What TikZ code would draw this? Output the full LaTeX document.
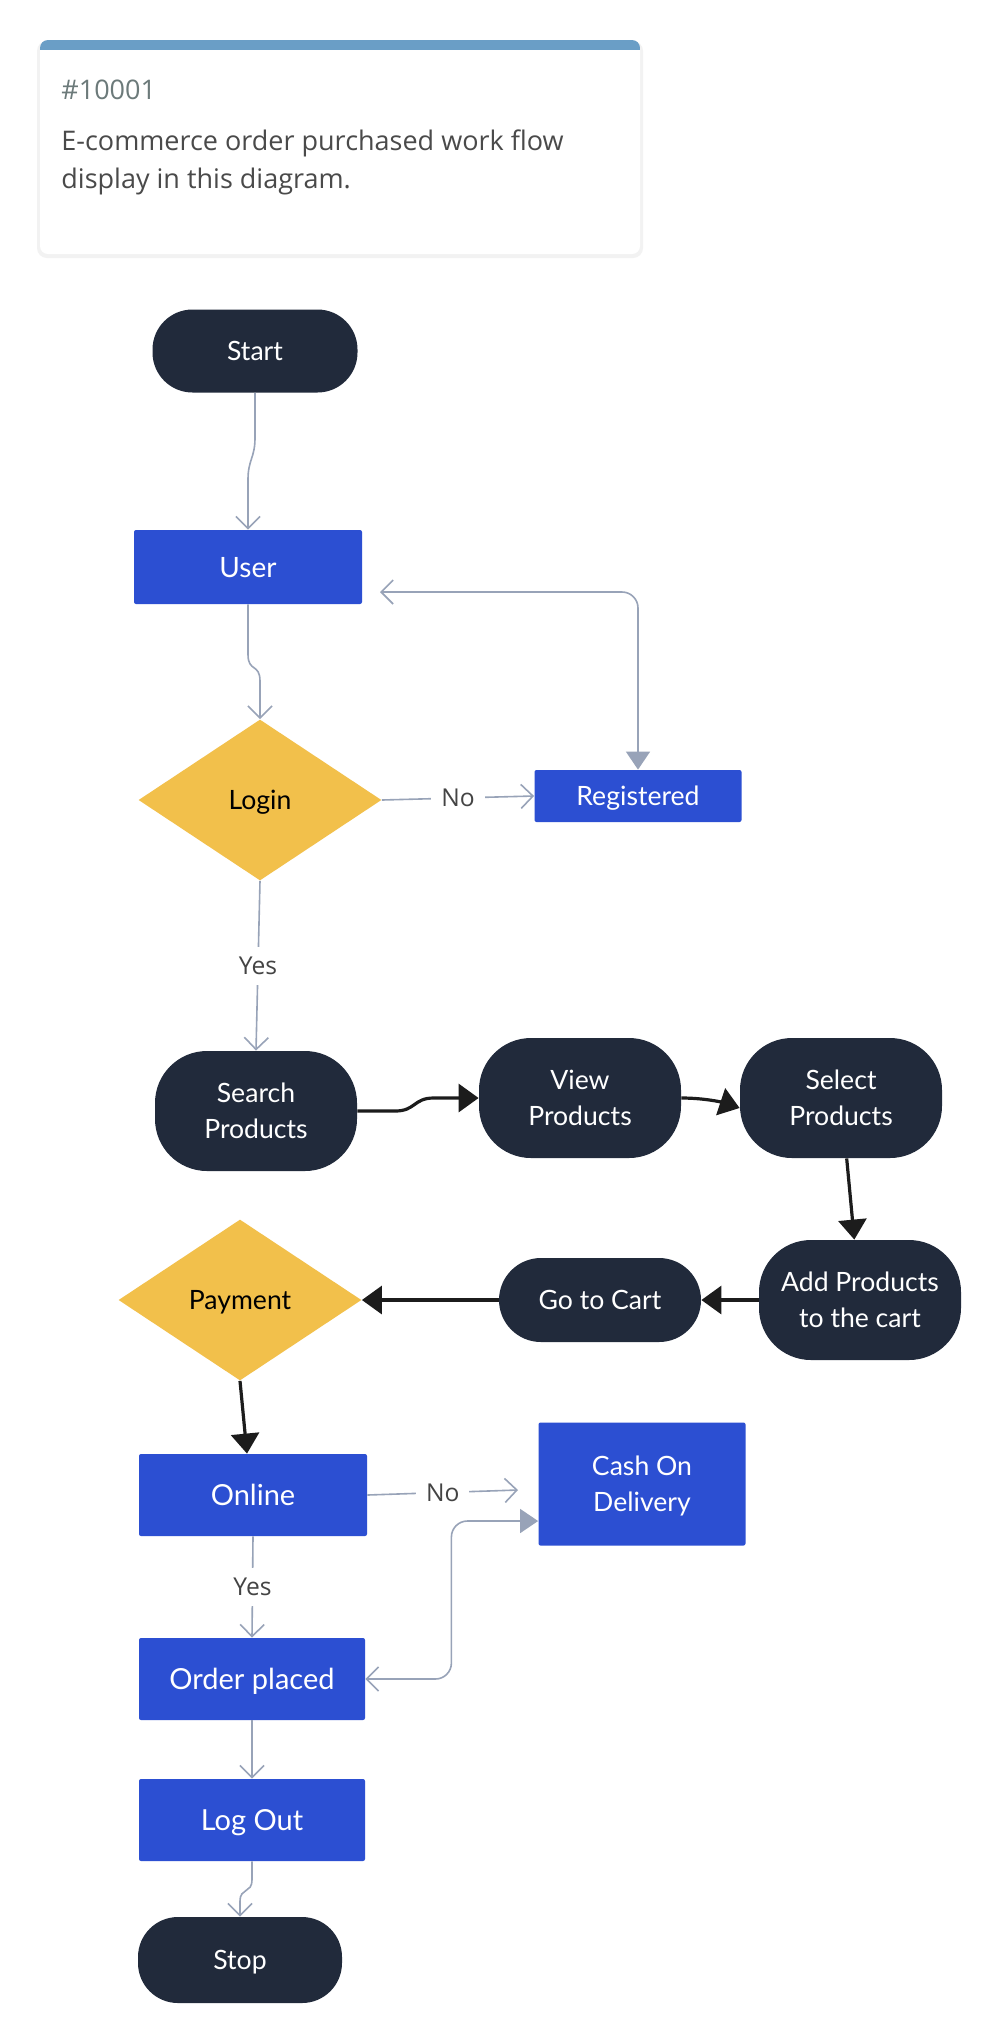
\documentclass[tikz,border=0pt]{standalone}
\usepackage{fontspec}
\setmainfont{Lato}
\newfontfamily\cardfont{Open Sans}
\usetikzlibrary{arrows.meta, positioning, shapes.geometric, calc}

\definecolor{navy}{RGB}{33,42,59}
\definecolor{procblue}{RGB}{44,79,210}
\definecolor{decyellow}{RGB}{242,192,75}
\definecolor{linegrey}{RGB}{152,163,184}
\definecolor{arrowblack}{RGB}{28,28,28}
\definecolor{lblgrey}{RGB}{68,68,68}
\definecolor{cardgrey}{RGB}{74,74,74}
\definecolor{idgrey}{RGB}{108,122,122}
\definecolor{cardbar}{RGB}{106,158,198}

\begin{document}
\begin{tikzpicture}[x=0.5pt, y=-0.5pt,
    every node/.style={font=\fontsize{13.3pt}{18pt}\selectfont, inner sep=0pt, align=center},
    bigtext/.style={font=\fontsize{14.5pt}{18pt}\selectfont},
    flat/.style={text depth=0pt},
    terminal/.style={flat, fill=navy, text=white, rounded corners=20pt, minimum width=102.5pt, minimum height=41.5pt},
    roundbox/.style={flat, fill=navy, text=white, rounded corners=26pt, minimum width=101pt, minimum height=60pt},
    procbox/.style={flat, fill=procblue, text=white, rounded corners=1pt, minimum width=114pt, minimum height=41pt},
    decision/.style={flat, diamond, fill=decyellow, text=black, minimum width=121.5pt, minimum height=80.5pt},
    flow/.style={draw=linegrey, line width=0.8pt, -{Straight Barb[length=6pt, width=12pt]}},
    both/.style={flow, {Straight Barb[length=6pt, width=12pt]}-{Triangle[length=9pt, width=12pt]}, rounded corners=8pt},
    strong/.style={draw=arrowblack, line width=1.6pt, -{Triangle[length=10pt, width=14pt]}},
    lbl/.style={fill=white, text=lblgrey, font=\cardfont\fontsize{12.3pt}{14pt}\selectfont, inner sep=5pt},
    cardtext/.style={font=\cardfont\fontsize{13.5pt}{19pt}\selectfont, text=cardgrey, align=left},
  ]
    \useasboundingbox (0,0) rectangle (1000,2040);
    \fill[white] (0,0) rectangle (1000,2040);

    % Carte de description
    \fill[black!5, rounded corners=5pt] (37,41) rectangle (643,258);
    \fill[white, rounded corners=4pt] (40,40) rectangle (640,254);
    \begin{scope}
        \clip[rounded corners=4pt] (40,40) rectangle (640,254);
        \fill[cardbar] (40,40) rectangle (640,50);
    \end{scope}
    \node[cardtext, text=idgrey, anchor=base west] (cardid) at (61,99) {\#10001};
    \node[cardtext, anchor=north west] (carddesc) at (61,129) {E-commerce order purchased work flow\\display in this diagram.};

    % Noeuds
    \node[terminal] (Start)      at (255,351)  {Start};
    \node[procbox, font=\fontsize{14pt}{18pt}\selectfont, minimum height=37pt] (User) at (248,567) {User};
    \node[decision] (Login)      at (260,800)  {Login};
    \node[procbox, minimum width=103.5pt, minimum height=26pt] (Registered) at (638,796) {Registered};
    \node[roundbox] (Search)     at (256,1111) {Search\\Products};
    \node[roundbox] (View)       at (580,1098) {View\\Products};
    \node[roundbox] (Select)     at (841,1098) {Select\\Products};
    \node[roundbox] (Add)        at (860,1300) {Add Products\\to the cart};
    \node[roundbox, rounded corners=21pt, minimum height=42pt] (Cart) at (600,1300) {Go to Cart};
    \node[decision] (Payment)    at (240,1300) {Payment};
    \node[procbox, bigtext] (Online) at (253,1495) {Online};
    \node[procbox, minimum width=103.5pt, minimum height=61.5pt] (Cash) at (642,1484) {Cash On\\Delivery};
    \node[procbox, bigtext, minimum width=113pt] (Order)  at (252,1679) {Order placed};
    \node[procbox, bigtext, minimum width=113pt] (LogOut) at (252,1820) {Log Out};
    \node[terminal, minimum width=102pt, minimum height=43pt] (Stop) at (240,1960) {Stop};

    % Connexions grises
    \draw[flow] (Start.south) -- ++(0,45) .. controls +(0,20) and +(0,-20) .. ($(User.north)+(0,-50)$) -- (User.north);
    \draw[flow] (User.south) -- ++(0,50) .. controls +(0,18) and +(0,-18) .. ($(Login.north)+(0,-38)$) -- (Login.north);
    \draw[flow] (Login.east) -- node[lbl] {No} (Registered.west);
    \coordinate (userback) at (380,592);
    \draw[both] (userback) -| (Registered.north);
    \draw[flow] (Login.south) -- node[lbl] {Yes} (Search.north);

    % Connexions noires
    \draw[strong] (Search.east) -- ++(38,0) .. controls +(20,0) and +(-20,0) .. ($(View.west)+(-45,0)$) -- (View.west);
    \draw[strong] (View.east) .. controls +(25,0) and +(-15,-5) .. ([yshift=-5pt]Select.west);
    \draw[strong] (Select) -- (Add);
    \draw[strong] (Add.west) -- (Cart.east);
    \draw[strong] (Cart.west) -- (Payment.east);
    \draw[strong] (Payment.south) -- ([xshift=-3pt]Online.north);

    % Paiement et sortie
    \coordinate (cashtip) at (518,1490);
    \draw[flow] (Online.east) -- node[lbl] {No} (cashtip);
    \draw[flow] (Online.south) -- node[lbl] {Yes} (Order.north);
    \draw[both] (Order.east) -- ++(86,0) |- ([yshift=-18.5pt]Cash.west);
    \draw[flow] (Order.south) -- (LogOut.north);
    \draw[flow] (LogOut.south) -- ++(0,18) .. controls +(0,15) and +(0,-15) .. ($(Stop.north)+(0,-15)$) -- (Stop.north);
\end{tikzpicture}
\end{document}
